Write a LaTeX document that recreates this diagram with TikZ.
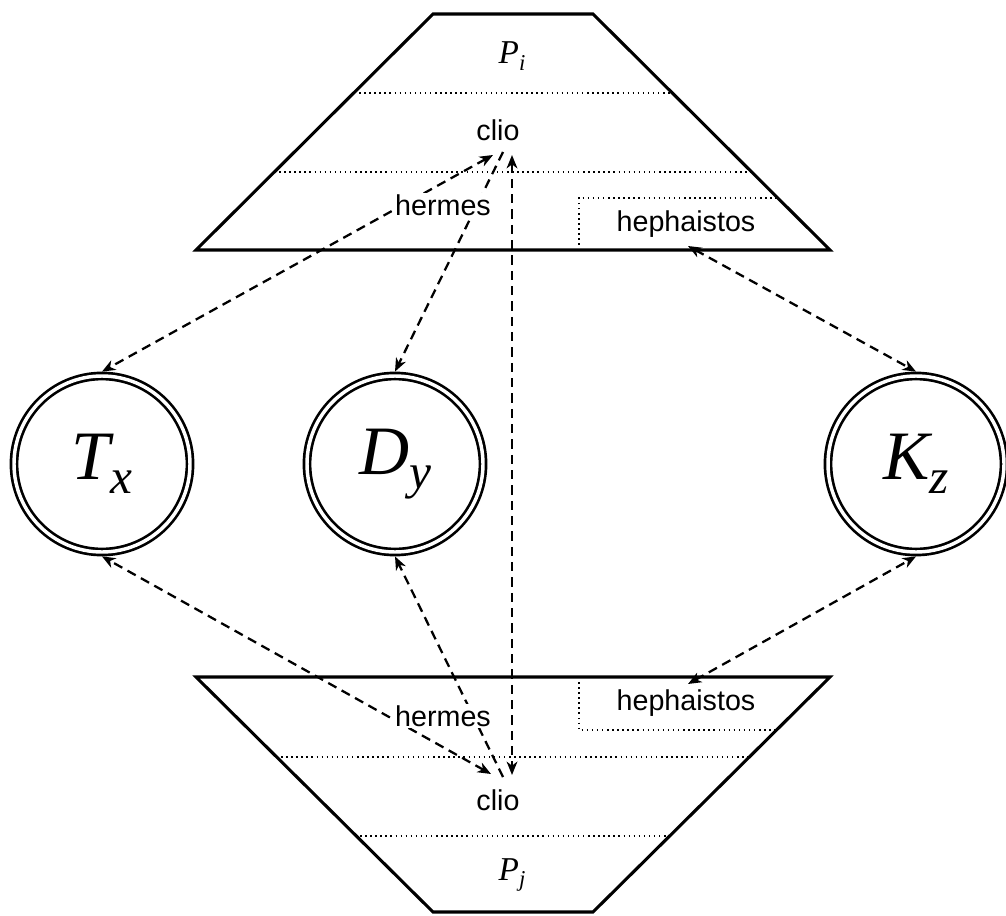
\documentclass[tikz,border=0pt]{standalone}
\usepackage{fontspec}
\setmainfont{Liberation Serif}
\setsansfont{Liberation Sans}
\usetikzlibrary{arrows.meta}
\newcommand{\bigsym}[2]{{\fontsize{52}{60}\selectfont\itshape #1\raisebox{-0.2em}{\fontsize{37}{40}\selectfont #2}}}
\newcommand{\smallsym}[2]{{\fontsize{25}{28}\selectfont\itshape #1\raisebox{-0.2em}{\fontsize{17}{20}\selectfont #2}}}
\tikzset{
  trap/.style={line width=2.3pt, line join=miter},
  dotline/.style={line width=1.1pt, dash pattern=on 1.1pt off 2.7pt},
  lbl/.style={font=\sffamily\fontsize{21.5}{25}\selectfont, inner sep=1pt},
  lblw/.style={lbl, fill=white},
  sym/.style={inner sep=0pt},
  dcirc/.style={circle, draw, line width=2pt, double, double distance=2.6pt, minimum size=132pt, inner sep=0pt, outer sep=3.3pt},
  link/.style={line width=1.7pt, dash pattern=on 7pt off 4.5pt, >={Stealth[length=10pt,width=8pt,inset=3pt]}},
  both/.style={link, <->},
  one/.style={link, ->}
}
\begin{document}
\begin{tikzpicture}[x=0.75pt,y=-0.75pt]
\useasboundingbox (0,0) rectangle (1006,916);
% top trapezoid
\draw[trap] (433,14) -- (593,14) -- (830,250) -- (196,250) -- cycle;
\draw[dotline] (354,93) -- (672,93);
\draw[dotline] (274,172) -- (752,172);
\draw[dotline] (579,250) -- (579,198) -- (778,198);
% bottom trapezoid
\draw[trap] (196,677) -- (830,677) -- (593,912) -- (433,912) -- cycle;
\draw[dotline] (276,757) -- (750,757);
\draw[dotline] (355,836) -- (671,836);
\draw[dotline] (579,677) -- (579,730) -- (777,730);
% labels
\node[sym] (Pi) at (512,56) {\smallsym{P}{i}};
\node[lbl] (clioT) at (498,130) {clio};
\node[lbl] (hephT) at (686,224) {hephaistos};
\node[sym] (Pj) at (512,875) {\smallsym{P}{j}};
\node[lbl] (clioB) at (498,800) {clio};
\node[lbl] (hephB) at (686,703) {hephaistos};
% circles
\node[dcirc] (Tx) at (102,464) {\bigsym{T}{x}};
\node[dcirc] (Dy) at (395,464) {\bigsym{D}{y}};
\node[dcirc] (Kz) at (916,464) {\bigsym{K}{z}};
% connector end points
\coordinate (t1) at (493,155);
\coordinate (t2) at (503,152);
\coordinate (t3) at (512,155);
\coordinate (t4) at (688,246);
\coordinate (b1) at (491,774);
\coordinate (b2) at (503,777);
\coordinate (b3) at (512,775);
\coordinate (b4) at (688,684);
% connectors
\draw[both] (t1) -- (Tx.north);
\draw[one] (t2) -- (Dy.north);
\draw[both] (t3) -- (b3);
\draw[both] (t4) -- (Kz.north);
\draw[both] (b1) -- (Tx.south);
\draw[one] (b2) -- (Dy.south);
\draw[both] (b4) -- (Kz.south);
% hermes labels (over the connectors)
\node[lblw] (hermT) at (443,205) {hermes};
\node[lblw] (hermB) at (443,716) {hermes};
\end{tikzpicture}
\end{document}
